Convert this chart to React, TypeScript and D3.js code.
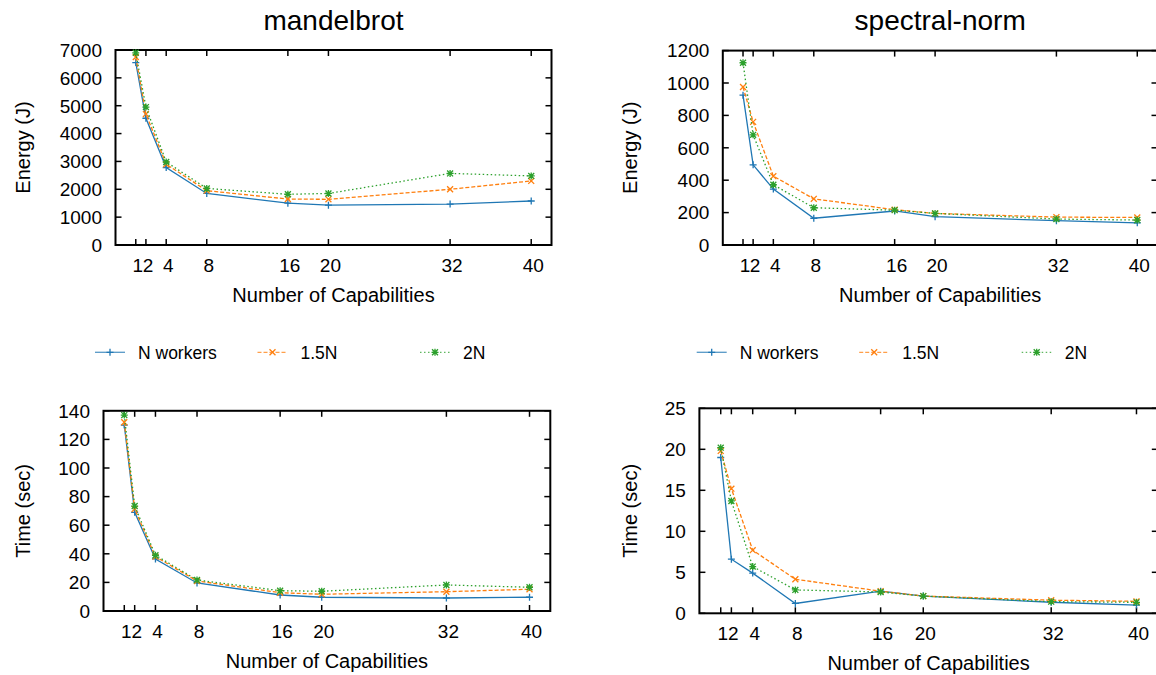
import React from "react";
import * as d3 from "d3";

// x values shared by every panel
const capabilities = [1, 2, 4, 8, 16, 20, 32, 40];
const seriesNames = ["N workers", "1.5N", "2N"];

// mandelbrot, energy (J)
const mandelEnergyN = [6550, 4550, 2780, 1850, 1500, 1430, 1470, 1580];
const mandelEnergy15 = [6750, 4700, 2900, 1950, 1650, 1640, 2000, 2300];
const mandelEnergy2 = [6900, 4950, 2980, 2030, 1820, 1850, 2570, 2480];

// spectral-norm, energy (J)
const spectralEnergyN = [925, 495, 345, 165, 210, 175, 150, 137];
const spectralEnergy15 = [975, 760, 425, 285, 218, 195, 172, 170];
const spectralEnergy2 = [1125, 680, 372, 230, 215, 195, 160, 154];

// mandelbrot, time (sec)
const mandelTimeN = [130, 69, 36.4, 19.6, 11.2, 9.6, 9.1, 9.6];
const mandelTime15 = [132, 71.3, 38, 21, 12.8, 11.7, 13.5, 15.2];
const mandelTime2 = [137, 73.4, 39, 21.7, 14.2, 13.8, 18.2, 16.6];

// spectral-norm, time (sec)
const spectralTimeN = [19.0, 6.6, 4.9, 1.2, 2.7, 2.1, 1.35, 1.0];
const spectralTime15 = [19.8, 15.2, 7.7, 4.15, 2.7, 2.1, 1.6, 1.46];
const spectralTime2 = [20.2, 13.7, 5.7, 2.85, 2.6, 2.1, 1.42, 1.34];

const colors = ["#1f77b4", "#ff7f0e", "#2ca02c"];
const dashes = ["none", "4,2", "1.5,2.5"];
const FONT = "'Liberation Sans', Arial, Helvetica, sans-serif";

const markerPath = (i: number, s: number) => {
  const plus = `M${-s},0H${s}M0,${-s}V${s}`;
  const d = s * 0.85;
  const cross = `M${-d},${-d}L${d},${d}M${-d},${d}L${d},${-d}`;
  if (i === 0) return plus;
  if (i === 1) return cross;
  return plus + cross;
};

const panels = [
  { title: "mandelbrot", series: [mandelEnergyN, mandelEnergy15, mandelEnergy2], yMax: 7000, step: 1000,
    ylabel: "Energy (J)", x0: 115.5, x1: 551.5, yTop: 50, yBot: 245, labOff: 86 },
  { title: "spectral-norm", series: [spectralEnergyN, spectralEnergy15, spectralEnergy2], yMax: 1200, step: 200,
    ylabel: "Energy (J)", x0: 722.8, x1: 1157.5, yTop: 50.6, yBot: 245, labOff: 86 },
  { title: "", series: [mandelTimeN, mandelTime15, mandelTime2], yMax: 140, step: 20,
    ylabel: "Time (sec)", x0: 103.5, x1: 550.3, yTop: 410.8, yBot: 611, labOff: 74 },
  { title: "", series: [spectralTimeN, spectralTime15, spectralTime2], yMax: 25, step: 5,
    ylabel: "Time (sec)", x0: 699.4, x1: 1157.8, yTop: 408.3, yBot: 613.3, labOff: 62.5 },
];

const Panel = ({ p }: { p: typeof panels[0] }) => {
  const x = d3.scaleLinear().domain([-1, 42]).range([p.x0, p.x1]);
  const y = d3.scaleLinear().domain([0, p.yMax]).range([p.yBot, p.yTop]);
  const yTicks = d3.range(0, p.yMax + p.step / 2, p.step);
  const line = d3.line<number>()
    .x((_, i) => x(capabilities[i]))
    .y(d => y(d));
  const tl = 6;

  return (
    <g>
      {p.title && (
        <text x={(p.x0 + p.x1) / 2} y={30} textAnchor="middle" fontSize={28} fontFamily={FONT}>{p.title}</text>
      )}
      {/* x ticks, bottom and mirrored top */}
      {capabilities.map(c => (
        <g key={"xt" + c}>
          <line x1={x(c)} x2={x(c)} y1={p.yBot} y2={p.yBot - tl} stroke="#000" strokeWidth={1.5} />
          <line x1={x(c)} x2={x(c)} y1={p.yTop} y2={p.yTop + tl} stroke="#000" strokeWidth={1.5} />
          <text x={x(c) + 2} y={p.yBot + 27} textAnchor="middle" fontSize={19} fontFamily={FONT}>{c}</text>
        </g>
      ))}
      {/* y ticks, left and mirrored right */}
      {yTicks.map(t => (
        <g key={"yt" + t}>
          <line x1={p.x0} x2={p.x0 + tl} y1={y(t)} y2={y(t)} stroke="#000" strokeWidth={1.5} />
          <line x1={p.x1} x2={p.x1 - tl} y1={y(t)} y2={y(t)} stroke="#000" strokeWidth={1.5} />
          <text x={p.x0 - 13.5} y={y(t)} dy="0.36em" textAnchor="end" fontSize={19} fontFamily={FONT}>{t}</text>
        </g>
      ))}
      <rect x={p.x0} y={p.yTop} width={p.x1 - p.x0} height={p.yBot - p.yTop} fill="none" stroke="#000" strokeWidth={2} />
      {p.series.map((s, i) => (
        <g key={"s" + i}>
          <path d={line(s) || ""} fill="none" stroke={colors[i]} strokeWidth={1.3} strokeDasharray={dashes[i]} />
          {s.map((v, j) => (
            <path key={j} d={markerPath(i, 3.5)} transform={`translate(${x(capabilities[j])},${y(v)})`}
              stroke={colors[i]} strokeWidth={1.3} fill="none" />
          ))}
        </g>
      ))}
      <text x={(p.x0 + p.x1) / 2} y={p.yBot + 57} textAnchor="middle" fontSize={20} fontFamily={FONT}>Number of Capabilities</text>
      <text transform={`translate(${p.x0 - p.labOff},${(p.yTop + p.yBot) / 2}) rotate(-90)`} textAnchor="middle"
        fontSize={20} fontFamily={FONT}>{p.ylabel}</text>
    </g>
  );
};

const Legend = ({ x0 }: { x0: number }) => {
  const yy = 352.3;
  const gap = 162.5;
  return (
    <g>
      {seriesNames.map((n, i) => {
        const lx = x0 + i * gap;
        return (
          <g key={n}>
            <line x1={lx} x2={lx + 30} y1={yy} y2={yy} stroke={colors[i]} strokeWidth={1.3} strokeDasharray={dashes[i]} opacity={0.75} />
            <path d={markerPath(i, 3.5)} transform={`translate(${lx + 15},${yy})`} stroke={colors[i]} strokeWidth={1.3} fill="none" />
            <text x={lx + 43} y={yy} dy="0.36em" fontSize={17.5} fontFamily={FONT}>{n}</text>
          </g>
        );
      })}
    </g>
  );
};

export default function App() {
  return (
    <svg width={1156} height={675} style={{ position: "absolute", left: 0, top: 0, background: "#fff" }}>
      <rect width={1156} height={675} fill="#fff" />
      {panels.map((p, i) => <Panel key={i} p={p} />)}
      <Legend x0={95} />
      <Legend x0={696.7} />
    </svg>
  );
}
